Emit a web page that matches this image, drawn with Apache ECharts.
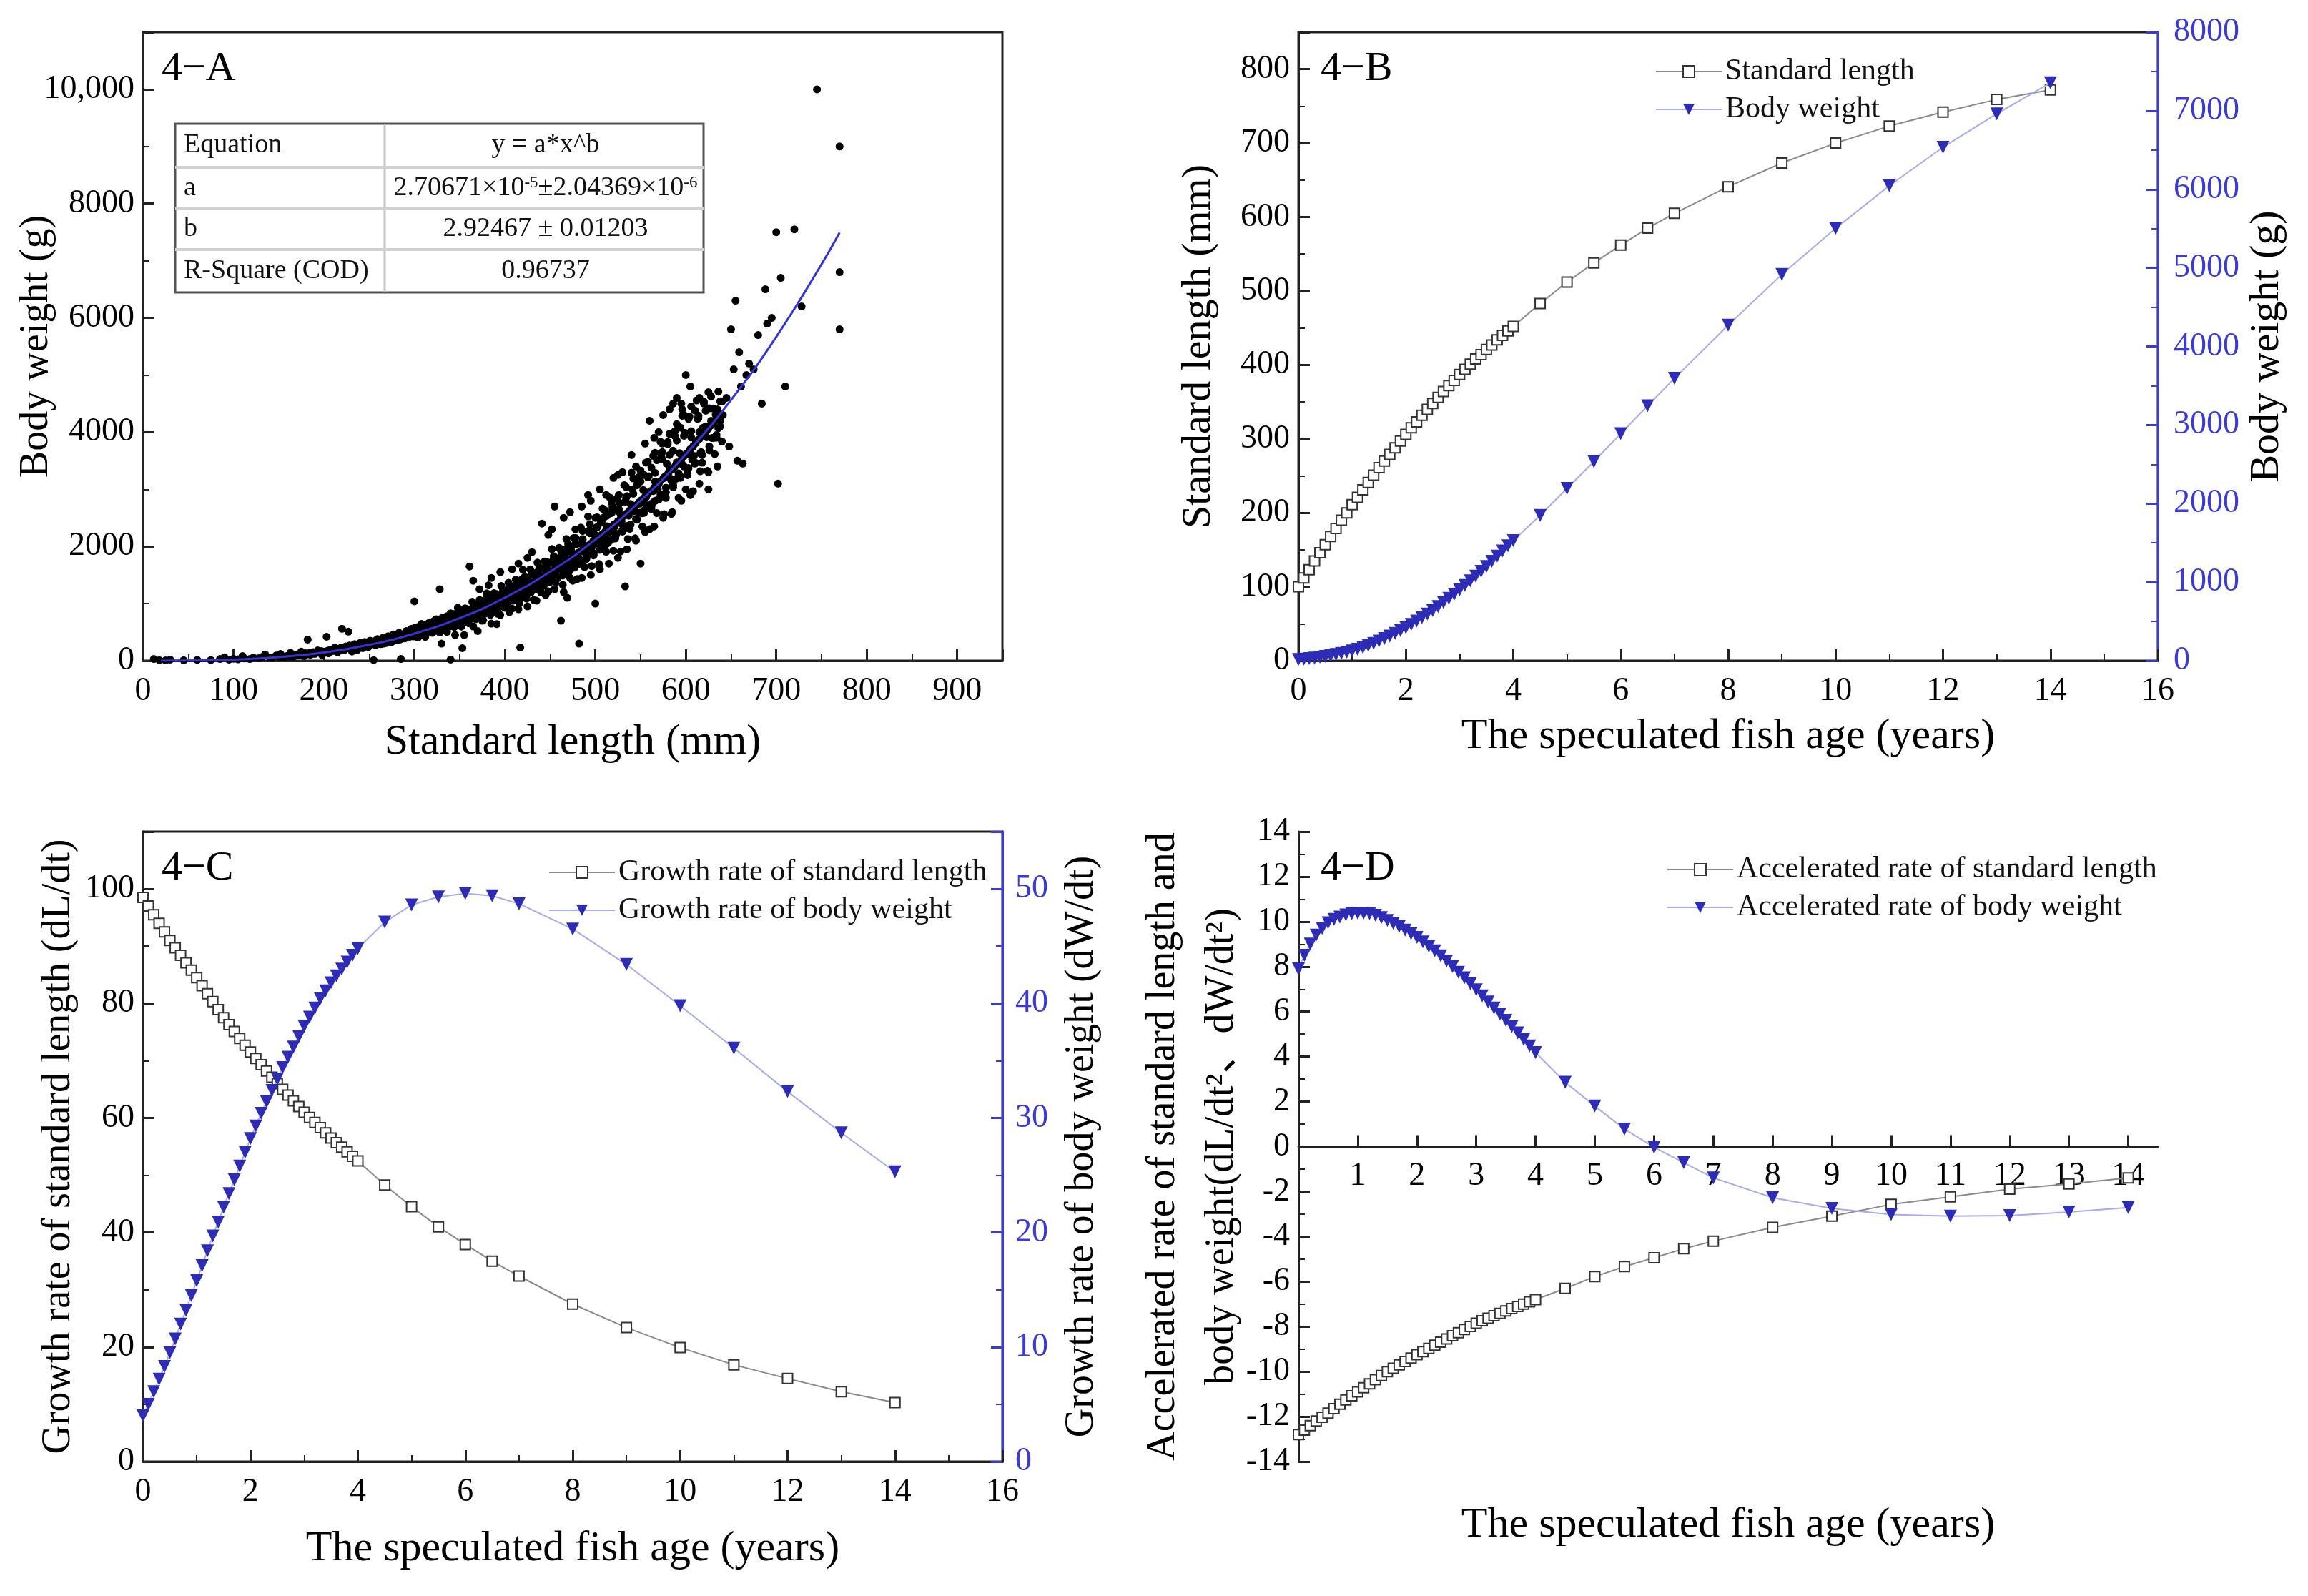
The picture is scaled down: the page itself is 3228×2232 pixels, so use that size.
<!DOCTYPE html>
<html>
<head>
<meta charset="utf-8">
<script src="https://cdn.jsdelivr.net/npm/echarts@6/dist/echarts.min.js"></script>
<style>
html, body { margin: 0; background: #fff; }
#chart { width: 3228px; height: 2232px; }
</style>
</head>
<body>
<div id="chart"></div>
<script>
// ---- 4-A : length / weight scatter ----
const scatterSmall = [[12,30],[18,10],[25,5],[30,20],[45,8],[60,15],[75,12],[85,30],[90,60],[95,20],[100,35],[105,25],[110,80],[112,40],[118,30],[122,55],[128,45],[132,70],[135,110],[140,60],[143,50],[147,90],[150,75],[152,120],[156,60],[160,85],[163,140],[166,70],[170,110],[172,95],[175,160],[178,80],[180,130],[182,370],[185,105],[188,150],[190,120],[193,180],[196,140],[198,100],[200,160],[203,420],[205,130],[207,190],[210,170],[212,230],[215,150],[218,200],[220,560],[222,180],[225,240],[227,510],[229,210],[231,160],[233,280],[235,230],[237,190],[239,300],[241,260],[243,220],[245,330],[247,280],[249,240],[251,350],[253,300],[255,10],[257,270],[259,380]];
const scatterLow2 = [[151,55],[154,70],[157,65],[159,80],[162,75],[165,95],[168,85],[171,100],[174,95],[177,120],[181,110],[184,135],[187,125],[191,150],[194,140],[197,170],[201,150],[204,175],[206,165],[209,195],[211,180],[214,210],[217,195],[219,230],[221,205],[224,250],[226,220],[228,265],[230,235],[232,255],[234,290],[236,250],[238,275],[240,310],[242,270],[244,295],[246,320],[248,290],[250,305],[252,330],[254,290],[256,345],[258,315],[260,300],[264,360],[268,325],[272,390],[276,355],[280,410]];
const scatterBand1 = [[261,320],[263,290],[265,400],[267,350],[269,310],[271,430],[273,370],[275,330],[277,460],[279,400],[281,360],[283,490],[285,30],[287,430],[289,390],[291,520],[293,460],[295,420],[297,560],[299,490],[300,1040],[302,450],[304,590],[306,520],[308,480],[310,620],[312,560],[314,510],[316,660],[318,590],[320,540],[322,700],[324,620],[326,570],[328,1250],[330,740],[332,660],[334,600],[336,780],[338,690],[340,20],[341,640],[343,820],[345,730],[347,680],[349,860],[351,770],[353,220],[355,720],[357,900],[359,810],[361,1650],[363,760],[365,940],[367,850],[369,800],[370,520],[372,990],[374,890],[376,840],[378,1040],[380,930],[382,1320],[384,880],[386,1090],[388,980],[390,920],[391,640],[393,1140],[395,1030],[397,960],[399,1190],[401,1080],[403,1010],[405,1250],[407,1130],[409,1050],[411,1310],[413,1180],[415,1100],[417,230],[419,1370],[421,1240],[423,1150],[425,1430],[427,1300],[429,1200],[431,1500],[433,1350],[435,1250],[437,1570],[439,1410],[441,2400],[443,1310],[445,1640],[447,1470],[449,1370],[451,1710],[453,1530],[455,2700],[457,1430],[459,1790],[461,1600],[462,700],[464,1490],[466,1870],[468,1670],[469,1100],[471,1560],[473,1950],[475,1740],[477,1630],[479,2040],[481,1820],[482,300],[484,1700],[486,2130],[488,1900],[490,1780],[492,2900],[494,2230],[496,1980],[498,1860],[500,1000],[501,2330],[503,2070],[505,1940],[507,2430],[509,2160],[511,2020],[513,2540],[515,2250],[517,2110],[519,2650],[521,2340],[523,2200],[525,3250],[527,2760],[529,2440],[531,2290],[533,1300],[535,2880],[537,2540],[539,2380],[541,3000],[543,2640],[545,2480],[547,3120],[549,2750],[550,1700],[552,2580],[554,3250],[556,2860],[558,2690],[560,4200],[562,3380],[564,2970],[566,2800],[568,3510],[570,3090],[572,2910],[574,3650],[576,3210],[578,3030],[580,3790],[582,3340],[584,3150],[586,4500],[588,3930],[590,3470],[592,3280],[594,4080],[596,4400],[598,3400],[600,5000],[601,3610],[603,4230],[605,3700],[607,3520],[610,4380],[612,3850],[615,4000],[617,3650],[620,4500],[622,4100],[625,3300],[628,4200],[631,3900],[635,4400],[638,4100],[641,4300],[645,4600],[648,3750]];
const scatterBand2 = [[262,350],[266,300],[270,395],[274,330],[278,420],[282,370],[286,455],[290,400],[294,505],[298,440],[302,540],[306,470],[310,585],[314,500],[318,640],[322,540],[326,690],[330,580],[334,745],[338,620],[342,800],[346,660],[350,850],[354,700],[358,905],[362,745],[366,965],[370,790],[374,1030],[378,840],[382,1100],[386,890],[390,1170],[394,940],[398,1240],[402,1000],[406,1310],[410,1060],[414,1390],[418,1120],[422,1470],[426,1180],[430,1550],[434,1250],[438,1640],[442,1320],[446,1730],[450,1390],[454,1830],[458,1460],[462,1930],[466,1540],[470,2040],[474,1620],[478,2150],[482,1700],[486,2270],[490,1790],[494,2390],[498,1880],[502,2510],[506,1970],[510,2640],[514,2060],[518,2770],[522,2160],[526,2900],[530,2260],[534,3040],[538,2370],[542,3190],[546,2480],[550,3330],[554,2590],[558,3480],[562,2700],[566,3640],[570,2820],[574,3800],[578,2950],[582,3970],[586,3080],[590,4140],[594,3200],[598,4300],[602,3330],[606,4450],[610,3470],[614,4250],[618,3600],[622,4000],[626,3750],[630,4150],[634,3950],[638,4200]];
const scatterBand3 = [[281,410],[284,372],[288,464],[292,422],[295,468],[299,425],[303,529],[306,490],[309,581],[313,495],[316,576],[319,541],[323,649],[326,601],[329,660],[333,581],[336,683],[339,775],[343,662],[346,773],[349,718],[353,842],[356,722],[359,836],[363,798],[366,954],[369,811],[373,954],[376,903],[379,1084],[383,875],[386,1045],[389,976],[393,1142],[396,1008],[399,1129],[403,1026],[406,1280],[409,1143],[413,1284],[416,1150],[419,1427],[423,1246],[426,1378],[429,1218],[433,1501],[436,1391],[439,1621],[443,1368],[446,1593],[449,1470],[453,1747],[456,1506],[459,1700],[463,1641],[466,1949],[469,1599],[473,1909],[476,1762],[479,2037],[483,1762],[486,2028],[489,1925],[493,2277],[496,1863],[499,2212],[503,2049],[506,2415],[509,2077],[513,2353],[516,2253],[519,2694],[523,2223],[526,2604],[529,2398],[533,2784],[536,2362],[539,2745],[543,2616],[546,3070],[549,2590],[553,2987],[556,2746],[559,3230],[563,2758],[566,3136],[569,2999],[573,3567],[576,2917],[579,3449],[583,3188],[586,3675],[589,3182],[593,3631],[596,3437],[599,3990],[603,3374],[606,3907],[609,3584],[613,4232],[616,3628],[619,4075],[623,3911],[626,4416],[629,3897],[633,4307],[636,4068],[640,4535]];
const scatterBand4 = [[283,395],[286,400],[290,425],[293,452],[297,460],[301,490],[304,485],[308,520],[311,530],[315,545],[318,570],[321,585],[325,600],[328,625],[331,630],[335,655],[338,690],[341,690],[345,710],[348,740],[351,755],[355,770],[358,800],[361,815],[365,835],[368,870],[371,880],[375,915],[378,935],[381,960],[385,980],[388,1010],[391,1030],[395,1060],[398,1095],[401,1110],[405,1140],[408,1170],[411,1190],[415,1220],[418,1260],[421,1280],[425,1310],[428,1345],[431,1370],[435,1400],[438,1440],[441,1470],[445,1500],[448,1540],[451,1565],[455,1600],[458,1645],[461,1670],[465,1710],[468,1750],[471,1780],[475,1820],[478,1860],[481,1890],[485,1930],[488,1980],[491,2010],[495,2050],[498,2100],[501,2130],[505,2180],[508,2220],[511,2260],[515,2300],[518,2350],[521,2390],[525,2440],[528,2490],[531,2530],[535,2580],[538,2630],[541,2670],[545,2720],[548,2770],[551,2810],[555,2870],[558,2920],[561,2970],[565,3030],[568,3080],[571,3130],[575,3190],[578,3240],[581,3290],[585,3350],[588,3400],[591,3460],[595,3520],[598,3580],[601,3630],[605,3700],[608,3750],[611,3810],[615,3880],[618,3940],[621,3990],[625,4060],[628,4120],[631,4180],[635,4250]];
const scatterWide = [[300,571],[304,406],[308,643],[312,417],[316,643],[320,488],[324,727],[328,494],[332,755],[336,504],[340,830],[344,589],[348,925],[352,599],[356,918],[360,657],[364,1031],[368,727],[372,1063],[376,709],[380,1178],[384,804],[388,1182],[392,822],[396,1308],[400,927],[404,1363],[408,912],[412,1420],[416,1002],[420,1590],[424,1086],[428,1599],[432,1063],[436,1717],[440,1195],[444,1737],[448,1213],[452,1955],[456,1360],[460,1975],[464,1328],[468,2130],[472,1450],[476,2147],[480,1429],[484,2332],[488,1638],[492,2526],[496,1656],[500,2500],[504,1692],[508,2664],[512,1908],[516,2857],[520,1925],[524,2843],[528,1913],[532,3073],[536,2129],[540,3290],[544,2142],[548,3213],[552,2349],[556,3468],[560,2302],[564,3585],[568,2584],[572,3831],[576,2565],[580,3827],[584,2570],[588,4018],[592,2849],[596,4287],[600,2999],[604,4273],[608,2966],[612,4555],[616,3316],[620,4532],[624,3322],[628,4622],[632,3615],[636,4710],[640,3838]];
const scatterMid = [[302,529],[306,455],[310,587],[314,500],[318,620],[322,521],[326,656],[330,572],[334,724],[338,593],[342,761],[346,650],[350,836],[354,709],[358,878],[362,734],[366,920],[370,800],[374,1007],[378,823],[382,1052],[386,896],[390,1148],[394,972],[398,1197],[402,997],[406,1245],[410,1079],[414,1354],[418,1104],[422,1406],[426,1193],[430,1525],[434,1288],[438,1582],[442,1315],[446,1637],[450,1417],[454,1774],[458,1442],[462,1833],[466,1553],[470,1980],[474,1667],[478,2043],[482,1694],[486,2106],[490,1817],[494,2270],[498,1843],[502,2337],[506,1976],[510,2514],[514,2113],[518,2585],[522,2139],[526,2654],[530,2286],[534,2850],[538,2309],[542,2923],[546,2467],[550,3136],[554,2631],[558,3212],[562,2654],[566,3289],[570,2828],[574,3522],[578,2849],[582,3601],[586,3035],[590,3852],[594,3227],[598,3936],[602,3248],[606,4018],[610,3450],[614,4289],[618,3465],[622,4374],[626,3680],[630,4415],[634,3904],[638,4538]];
const scatterAbove = [[365,1400],[372,1250],[385,1450],[395,1550],[408,1600],[415,1700],[425,1800],[430,1900],[448,2200],[452,2300],[465,2500],[472,2600],[478,2300],[485,2700],[495,2800],[505,3000],[512,2900],[520,3200],[530,3300],[540,3600],[545,3400],[555,3800],[565,3900],[570,4000],[575,4300],[582,4400],[590,4600],[595,4500],[605,4800],[615,4600],[625,4700]];
const scatterBelow = [[330,300],[345,450],[355,450],[365,600],[375,700],[385,650],[395,800],[405,850],[415,900],[425,950],[435,1050],[445,1150],[455,1250],[465,1200],[475,1400],[485,1450],[495,1500],[505,1600],[515,1700],[525,1800],[535,1950],[545,2100],[555,2250],[565,2350],[575,2500],[585,2600],[595,2800],[605,2900],[615,3100],[625,3000],[635,3400]];
const scatterLarge = [[650,5800],[653,5100],[655,6300],[657,3500],[659,5400],[661,4800],[663,3450],[667,5000],[670,5200],[675,5100],[680,5700],[684,4500],[688,6500],[690,5900],[695,6000],[700,7500],[702,3100],[705,6700],[710,4800],[720,7550],[728,6200],[745,10000],[770,9000],[770,6800],[770,5800]];

// fitted curve
const curveLen = [20, 50, 100, 150, 200, 250, 300, 350, 400, 450, 500, 550, 600, 650, 700, 750, 770];
const curveWt = [0, 2, 19, 63, 145, 279, 476, 746, 1104, 1557, 2119, 2800, 3613, 4564, 5668, 6936, 7492];

const fitRows = [
  ['Equation', 'y = a*x^b'],
  ['a', '2.70671×10{s|-5}±2.04369×10{s|-6}'],
  ['b', '2.92467 ± 0.01203'],
  ['R-Square (COD)', '0.96737']
];

// ---- 4-B, 4-C, 4-D : speculated age series ----
const ages = [0,0.1,0.2,0.3,0.4,0.5,0.6,0.7,0.8,0.9,1,1.1,1.2,1.3,1.4,1.5,1.6,1.7,1.8,1.9,2,2.1,2.2,2.3,2.4,2.5,2.6,2.7,2.8,2.9,3,3.1,3.2,3.3,3.4,3.5,3.6,3.7,3.8,3.9,4,4.5,5,5.5,6,6.5,7,8,9,10,11,12,13,14];

const stdLength = [100,112,123,135,146,157,168,179,190,200,211,221,231,241,251,261,270,279,288,297,306,315,323,332,340,348,356,364,372,379,387,394,401,408,414,421,427,434,440,446,452,483,512,538,562,585,605,641,673,700,723,742,759,772];
const bodyWeight = [15,20,27,35,45,55,67,80,94,109,125,145,168,194,221,250,282,315,349,384,420,462,505,549,594,640,690,741,793,846,900,958,1017,1077,1138,1200,1265,1330,1396,1463,1530,1850,2194,2535,2890,3245,3594,4271,4916,5503,6045,6535,6961,7355];

const growthL = [98.5,97.0,95.5,94.0,92.5,91.0,89.7,88.4,87.1,85.8,84.5,83.1,81.7,80.3,78.9,77.5,76.3,75.1,73.9,72.7,71.5,70.4,69.3,68.2,67.1,66.0,65.0,64.0,63.0,62.0,61.0,60.1,59.2,58.3,57.4,56.5,55.7,54.9,54.1,53.3,52.5,48.3,44.5,41.0,37.9,35.0,32.4,27.5,23.4,19.9,16.9,14.5,12.2,10.3];
const growthW = [4.0,5.0,6.1,7.2,8.3,9.5,10.7,12.0,13.2,14.5,15.8,17.1,18.4,19.7,20.9,22.2,23.4,24.6,25.8,27.0,28.2,29.3,30.4,31.4,32.4,33.4,34.4,35.3,36.2,37.1,38.0,38.8,39.6,40.4,41.1,41.8,42.4,43.0,43.6,44.2,44.8,47.1,48.6,49.3,49.6,49.4,48.7,46.5,43.4,39.8,36.1,32.3,28.7,25.3];

const accelL = [-12.8,-12.6,-12.4,-12.2,-12.03,-11.85,-11.65,-11.45,-11.26,-11.08,-10.9,-10.72,-10.54,-10.36,-10.18,-10.0,-9.85,-9.7,-9.55,-9.4,-9.25,-9.11,-8.97,-8.83,-8.69,-8.55,-8.41,-8.27,-8.13,-7.99,-7.85,-7.74,-7.63,-7.52,-7.41,-7.3,-7.2,-7.1,-7.0,-6.9,-6.8,-6.30,-5.78,-5.33,-4.94,-4.54,-4.20,-3.59,-3.09,-2.57,-2.23,-1.89,-1.66,-1.39];
const accelW = [7.9,8.5,9.0,9.4,9.7,9.95,10.1,10.2,10.3,10.35,10.38,10.38,10.35,10.28,10.18,10.05,9.92,9.78,9.62,9.46,9.3,9.1,8.9,8.7,8.48,8.25,8.0,7.75,7.5,7.24,6.97,6.7,6.43,6.16,5.89,5.61,5.33,5.05,4.76,4.47,4.18,2.86,1.80,0.78,-0.03,-0.71,-1.39,-2.27,-2.75,-3.02,-3.09,-3.07,-2.91,-2.71];

const FONT = '"Liberation Serif", "Times New Roman", "Noto Sans CJK SC", serif';
const INK = '#222';
const BLUE = '#2c2cb6';
const BLUE_AXIS = '#3b3bd4';
const BLUE_LINE = '#a9a9ec';

const pairs = (ys) => ages.map((t, i) => [t, ys[i]]);

function mkAxis(o) {
  const color = o.color || INK;
  return {
    type: 'value',
    gridIndex: o.grid,
    position: o.position,
    offset: o.offset || 0,
    min: o.min, max: o.max, interval: o.interval,
    name: o.name || '',
    nameLocation: 'middle',
    nameGap: o.nameGap,
    nameRotate: o.nameRotate,
    nameMoveOverlap: o.moveOverlap !== false,
    nameTextStyle: { fontFamily: FONT, fontSize: o.nameSize || 58, color: '#000', lineHeight: o.lineHeight },
    axisLine: { show: true, onZero: false, lineStyle: { color: color, width: 3 } },
    axisTick: { show: true, inside: true, length: 16, lineStyle: { color: color, width: 3 } },
    minorTick: { show: o.minor !== false, splitNumber: 2, length: 9, lineStyle: { color: color, width: 2 } },
    axisLabel: {
      fontFamily: FONT, fontSize: 46, color: o.labelColor || '#000', margin: o.margin || 12,
      showMaxLabel: o.showMax !== false, showMinLabel: o.showMin !== false,
      formatter: o.formatter || (v => String(v))
    },
    splitLine: { show: false }
  };
}

const gridBox = { show: true, borderColor: INK, borderWidth: 3, backgroundColor: 'transparent' };

const squareSeries = (name, x, y, data) => ({
  name, type: 'line', xAxisIndex: x, yAxisIndex: y, data,
  symbol: 'rect', symbolSize: 14, showAllSymbol: true,
  itemStyle: { color: '#fff', borderColor: '#333', borderWidth: 2 },
  lineStyle: { color: '#8a8a8a', width: 2 },
  emphasis: { disabled: true }, z: 3
});
const triSeries = (name, x, y, data) => ({
  name, type: 'line', xAxisIndex: x, yAxisIndex: y, data,
  symbol: 'triangle', symbolRotate: 180, symbolSize: 18, showAllSymbol: true,
  itemStyle: { color: BLUE },
  lineStyle: { color: BLUE_LINE, width: 2 },
  emphasis: { disabled: true }, z: 4
});

const legendBase = (names, left, top) => ({
  data: names, left, top, orient: 'vertical', selectedMode: false,
  itemWidth: 92, itemHeight: 20, itemGap: 11,
  textStyle: { fontFamily: FONT, fontSize: 42, color: '#111' }
});

const panelLabel = (txt, x, y) => ({
  type: 'text', x, y,
  style: { text: txt, fontFamily: FONT, fontSize: 58, fill: '#000', verticalAlign: 'middle' }
});

// equation table in 4-A
const tbl = { x0: 245, x1: 984, xc: 538, rows: [173, 234, 292, 349, 409] };
const tableGraphic = [{
  type: 'rect', shape: { x: tbl.x0, y: tbl.rows[0], width: tbl.x1 - tbl.x0, height: tbl.rows[4] - tbl.rows[0] },
  style: { fill: '#fff', stroke: '#555', lineWidth: 3 }, z: 10
}, {
  type: 'line', shape: { x1: tbl.xc, y1: tbl.rows[0], x2: tbl.xc, y2: tbl.rows[4] },
  style: { stroke: '#c4c4c4', lineWidth: 3 }, z: 11
}];
[1, 2, 3].forEach(i => tableGraphic.push({
  type: 'line', shape: { x1: tbl.x0, y1: tbl.rows[i], x2: tbl.x1, y2: tbl.rows[i] },
  style: { stroke: '#d0d0d0', lineWidth: 4 }, z: 11
}));
fitRows.forEach((r, i) => {
  const yc = (tbl.rows[i] + tbl.rows[i + 1]) / 2;
  tableGraphic.push({
    type: 'text', x: tbl.x0 + 12, y: yc, z: 12,
    style: { text: r[0], fontFamily: FONT, fontSize: 38, fill: '#111', verticalAlign: 'middle' }
  });
  tableGraphic.push({
    type: 'text', x: (tbl.xc + tbl.x1) / 2 + 2, y: yc, z: 12,
    style: {
      text: r[1], fontFamily: FONT, fontSize: 38, fill: '#111', align: 'center', verticalAlign: 'middle',
      rich: { s: { fontFamily: FONT, fontSize: 23, verticalAlign: 'top', fill: '#111' } }
    }
  });
});

const chart = echarts.init(document.getElementById('chart'), null, { renderer: 'canvas' });

chart.setOption({
  backgroundColor: '#fff',
  animation: false,
  grid: [
    Object.assign({ left: 200, top: 45, width: 1202, height: 879 }, gridBox),
    Object.assign({ left: 1816, top: 45, width: 1202, height: 879 }, gridBox),
    Object.assign({ left: 200, top: 1163, width: 1202, height: 881 }, gridBox),
    { left: 1816, top: 1163, width: 1202, height: 881, show: false }
  ],
  xAxis: [
    mkAxis({ grid: 0, position: 'bottom', min: 0, max: 950, interval: 100, showMax: false, margin: 20,
      name: 'Standard length (mm)', nameGap: 84, nameSize: 60 }),
    mkAxis({ grid: 1, position: 'bottom', min: 0, max: 16, interval: 2, margin: 20,
      name: 'The speculated fish age (years)', nameGap: 76, nameSize: 60 }),
    mkAxis({ grid: 2, position: 'bottom', min: 0, max: 16, interval: 2, margin: 20,
      name: 'The speculated fish age (years)', nameGap: 92, nameSize: 60 }),
    // 4-D: the age axis crosses at y = 0 (middle of the -14..14 range)
    mkAxis({ grid: 3, position: 'bottom', offset: -440.5, min: 0, max: 14.5, interval: 1, minor: false,
      showMin: false, showMax: false, margin: 18,
      formatter: v => (v >= 1 && v <= 14 && Number.isInteger(v)) ? String(v) : '' })
  ],
  yAxis: [
    mkAxis({ grid: 0, position: 'left', min: 0, max: 11000, interval: 2000, showMax: false,
      formatter: v => v === 10000 ? '10,000' : String(v), moveOverlap: false,
      name: 'Body weight (g)', nameGap: 121, nameRotate: 90, nameSize: 56 }),
    mkAxis({ grid: 1, position: 'left', min: 0, max: 850, interval: 100, showMax: false,
      name: 'Standard length (mm)', nameGap: 110, nameRotate: 90, nameSize: 58 }),
    mkAxis({ grid: 1, position: 'right', min: 0, max: 8000, interval: 1000, color: BLUE_AXIS, labelColor: BLUE_AXIS,
      margin: 22, name: 'Body weight (g)', nameGap: 124, nameRotate: 90, nameSize: 58 }),
    mkAxis({ grid: 2, position: 'left', min: 0, max: 110, interval: 20, showMax: false,
      name: 'Growth rate of standard length (dL/dt)', nameGap: 90, nameRotate: 90, nameSize: 56 }),
    mkAxis({ grid: 2, position: 'right', min: 0, max: 55, interval: 10, showMax: false,
      color: BLUE_AXIS, labelColor: BLUE_AXIS, margin: 18,
      name: 'Growth rate of body weight (dW/dt)', nameGap: 83, nameRotate: 90, nameSize: 56 }),
    mkAxis({ grid: 3, position: 'left', min: -14, max: 14, interval: 2, moveOverlap: false,
      name: 'Accelerated rate of standard length and\nbody weight(dL/dt²、dW/dt²)',
      nameGap: 66, nameRotate: 90, nameSize: 56, lineHeight: 82 })
  ],
  legend: [
    legendBase(['Standard length', 'Body weight'], 2310, 74),
    legendBase(['Growth rate of standard length', 'Growth rate of body weight'], 762, 1194),
    legendBase(['Accelerated rate of standard length', 'Accelerated rate of body weight'], 2326, 1190)
  ],
  graphic: [
    panelLabel('4−A', 226, 97),
    panelLabel('4−B', 1847, 97),
    panelLabel('4−C', 226, 1215),
    panelLabel('4−D', 1847, 1215),
    {
      type: 'text', x: 2417, y: 2133,
      style: { text: 'The speculated fish age (years)', fontFamily: FONT, fontSize: 60, fill: '#000',
        align: 'center', verticalAlign: 'middle' }
    }
  ].concat(tableGraphic),
  series: [
    {
      name: 'Measured', type: 'scatter', xAxisIndex: 0, yAxisIndex: 0,
      data: [].concat(scatterSmall, scatterLow2, scatterBand1, scatterBand2, scatterBand3, scatterBand4,
        scatterWide, scatterMid, scatterAbove, scatterBelow, scatterLarge),
      symbol: 'circle', symbolSize: 11, itemStyle: { color: '#000', opacity: 1 }, emphasis: { disabled: true }, z: 2
    },
    {
      name: 'Fit', type: 'line', xAxisIndex: 0, yAxisIndex: 0, smooth: true, showSymbol: false,
      data: curveLen.map((x, i) => [x, curveWt[i]]),
      lineStyle: { color: '#3434d2', width: 3 }, emphasis: { disabled: true }, z: 3
    },
    squareSeries('Standard length', 1, 1, pairs(stdLength)),
    triSeries('Body weight', 1, 2, pairs(bodyWeight)),
    squareSeries('Growth rate of standard length', 2, 3, pairs(growthL)),
    triSeries('Growth rate of body weight', 2, 4, pairs(growthW)),
    squareSeries('Accelerated rate of standard length', 3, 5, pairs(accelL)),
    triSeries('Accelerated rate of body weight', 3, 5, pairs(accelW))
  ]
});
</script>
</body>
</html>
